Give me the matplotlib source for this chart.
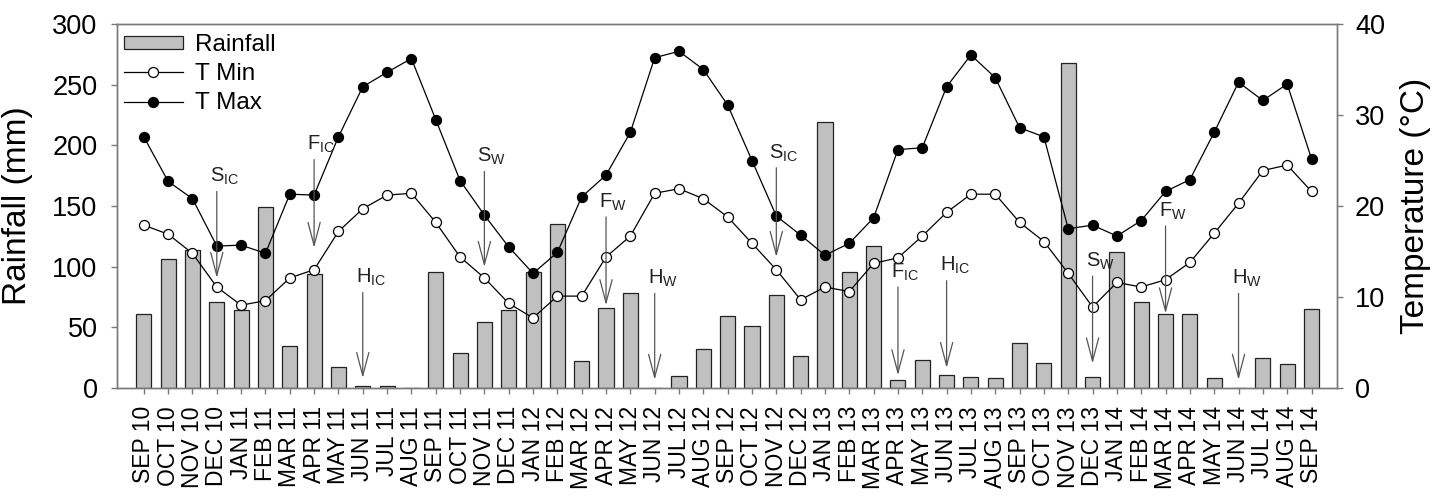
import matplotlib
matplotlib.use("Agg")
import matplotlib.pyplot as plt
from matplotlib.patches import Patch
from matplotlib.lines import Line2D

plt.rcParams['font.family'] = ['Liberation Sans', 'DejaVu Sans']
plt.rcParams['mathtext.fontset'] = 'custom'
plt.rcParams['mathtext.rm'] = 'Liberation Sans'

months = ['SEP 10', 'OCT 10', 'NOV 10', 'DEC 10', 'JAN 11', 'FEB 11', 'MAR 11',
          'APR 11', 'MAY 11', 'JUN 11', 'JUL 11', 'AUG 11', 'SEP 11', 'OCT 11',
          'NOV 11', 'DEC 11', 'JAN 12', 'FEB 12', 'MAR 12', 'APR 12', 'MAY 12',
          'JUN 12', 'JUL 12', 'AUG 12', 'SEP 12', 'OCT 12', 'NOV 12', 'DEC 12',
          'JAN 13', 'FEB 13', 'MAR 13', 'APR 13', 'MAY 13', 'JUN 13', 'JUL 13',
          'AUG 13', 'SEP 13', 'OCT 13', 'NOV 13', 'DEC 13', 'JAN 14', 'FEB 14',
          'MAR 14', 'APR 14', 'MAY 14', 'JUN 14', 'JUL 14', 'AUG 14', 'SEP 14']

rainfall = [61, 106, 114, 71, 64, 149, 35, 94, 17, 2, 2, 0, 96, 29,
            54, 64, 96, 135, 22, 66, 78, 0, 10, 32, 59, 51, 77, 26,
            219, 96, 117, 7, 23, 11, 9, 8, 37, 21, 268, 9, 112, 71,
            61, 61, 8, 0, 25, 20, 65]

t_min = [17.9, 16.9, 14.8, 11.1, 9.1, 9.6, 12.1, 13.0, 17.2, 19.7, 21.2, 21.4,
         18.2, 14.4, 12.1, 9.3, 7.7, 10.1, 10.1, 14.4, 16.7, 21.4, 21.9, 20.8,
         18.8, 15.9, 13.0, 9.7, 11.1, 10.6, 13.7, 14.3, 16.7, 19.3, 21.3, 21.3,
         18.2, 16.1, 12.6, 8.9, 11.6, 11.1, 11.9, 13.8, 17.0, 20.3, 23.9, 24.5,
         21.6]

t_max = [27.6, 22.7, 20.8, 15.6, 15.7, 14.8, 21.3, 21.2, 27.6, 33.1, 34.7, 36.2,
         29.5, 22.8, 19.0, 15.5, 12.6, 14.9, 21.0, 23.4, 28.1, 36.3, 37.0, 35.0,
         31.1, 25.0, 18.9, 16.8, 14.6, 15.9, 18.7, 26.2, 26.4, 33.1, 36.6, 34.1,
         28.6, 27.6, 17.5, 17.9, 16.7, 18.4, 21.6, 22.9, 28.1, 33.6, 31.6, 33.4,
         25.2]

# crop stage markers: letter, subscript, month index, arrow start/end (deg C)
event_letter = ['S', 'F', 'H', 'S', 'F', 'H', 'S', 'F', 'H', 'S', 'F', 'H']
event_sub = ['IC', 'IC', 'IC', 'W', 'W', 'W', 'IC', 'IC', 'IC', 'W', 'W', 'W']
event_month = [3, 7, 9, 14, 19, 21, 26, 31, 33, 39, 42, 45]
event_from = [21.6, 25.1, 10.5, 23.8, 18.8, 10.4, 24.2, 11.1, 11.8, 12.3, 17.8, 10.4]
event_to = [12.1, 15.4, 1.1, 13.3, 9.1, 0.9, 14.4, 1.4, 2.2, 2.7, 8.2, 0.9]

spine_col = '#7a7a7a'
x = list(range(len(months)))

fig = plt.figure(figsize=(14.38, 4.96), dpi=100)
ax = fig.add_axes([0.0814, 0.2177, 0.8484, 0.7339])
ax2 = ax.twinx()

ax.bar(x, rainfall, width=0.62, color='#c0c0c0', edgecolor='#222222',
       linewidth=0.9, zorder=2)
ax.set_xlim(-1.1, 49.05)
ax.set_ylim(0, 300)
ax.set_yticks([0, 50, 100, 150, 200, 250, 300])
ax.set_xticks(x)
ax.set_xticklabels(months, rotation=90, fontsize=16.5)
ax.set_ylabel('Rainfall (mm)', fontsize=24)
ax.yaxis.set_label_coords(-0.069, 0.5)

ax2.plot(x, t_min, '-', color='black', lw=0.9, marker='o', ms=7.2,
         mfc='white', mec='black', mew=0.9, zorder=3)
ax2.plot(x, t_max, '-', color='black', lw=0.9, marker='o', ms=7.2,
         mfc='black', mec='black', mew=0.9, zorder=3)
ax2.set_ylim(0, 40)
ax2.set_yticks([0, 10, 20, 30, 40])
ax2.set_ylabel('Temperature (\u00b0C)', fontsize=24, rotation=90)
ax2.yaxis.set_label_coords(1.052, 0.5)

for a in (ax, ax2):
    for s in a.spines.values():
        s.set_color(spine_col)
        s.set_linewidth(1.0)
ax.tick_params(axis='y', direction='out', length=4, width=1.0, color=spine_col,
               labelsize=19.5, pad=10)
ax.tick_params(axis='x', direction='out', length=4, width=1.0, color=spine_col,
               pad=9)
ax2.tick_params(axis='y', direction='out', length=4, width=1.0, color=spine_col,
                labelsize=19.5, pad=9)

for let, sub, m, y0, y1 in zip(event_letter, event_sub, event_month,
                               event_from, event_to):
    ax2.annotate('', xy=(m, y1), xytext=(m, y0),
                 arrowprops=dict(arrowstyle='->,head_length=0.83,head_width=0.22',
                                 mutation_scale=20, color='#555555', lw=0.9,
                                 shrinkA=0, shrinkB=0), zorder=4)
    ax2.annotate(let + r'$_\mathregular{' + sub + '}$', xy=(m, y0),
                 xytext=(-5, 3), textcoords='offset points',
                 ha='left', va='bottom', fontsize=14.5, color='#222222')

handles = [Patch(facecolor='#c0c0c0', edgecolor='#222222', linewidth=0.9),
           Line2D([], [], color='black', lw=0.9, marker='o', ms=7.2,
                  mfc='white', mec='black', mew=0.9),
           Line2D([], [], color='black', lw=0.9, marker='o', ms=7.2,
                  mfc='black', mec='black', mew=0.9)]
ax2.legend(handles, ['Rainfall', 'T Min', 'T Max'], loc='upper left',
           bbox_to_anchor=(-0.008, 1.02), frameon=False, fontsize=17.5,
           handlelength=2.4, handleheight=0.45, handletextpad=0.5,
           labelspacing=0.3, borderaxespad=0.3)

fig.savefig('out.png', dpi=100)
